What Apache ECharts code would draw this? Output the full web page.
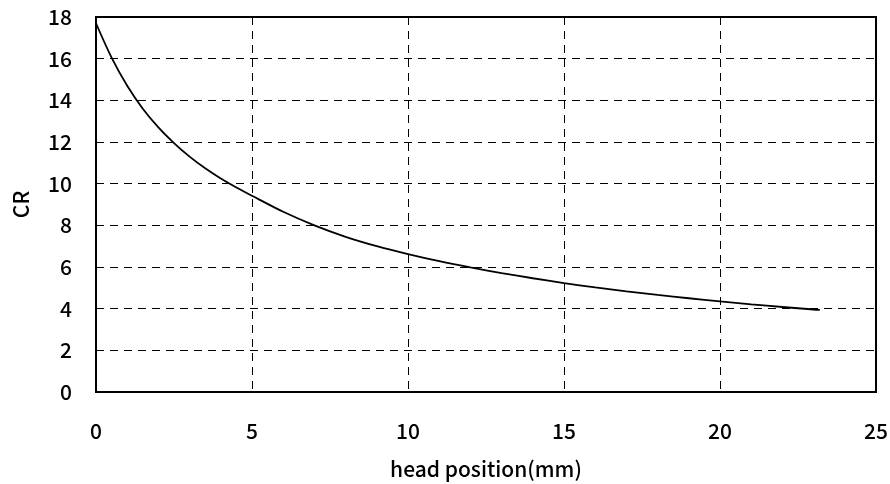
<!DOCTYPE html>
<html>
<head>
<meta charset="utf-8">
<script src="https://cdn.jsdelivr.net/npm/echarts@6/dist/echarts.min.js"></script>
<style>
  html, body { margin: 0; padding: 0; background: #fff; }
  #chart { width: 890px; height: 484px; }
</style>
</head>
<body>
<div id="chart"></div>
<script>
// head position (mm) and CR
var positions = [0, 0.5, 1, 1.5, 2, 2.5, 3, 3.5, 4, 4.5, 5, 6, 7, 8, 9, 10, 11, 12, 13, 14, 15, 16, 17, 18, 19, 20, 21, 22, 23, 23.2];
var crValues = [17.7, 16.05, 14.7, 13.6, 12.7, 11.95, 11.3, 10.74, 10.25, 9.82, 9.42, 8.65, 8.0, 7.45, 7.0, 6.62, 6.28, 5.98, 5.71, 5.46, 5.23, 5.02, 4.83, 4.66, 4.5, 4.35, 4.21, 4.08, 3.96, 3.94];

var xTicks = [0, 5, 10, 15, 20, 25];
var yTicks = [0, 2, 4, 6, 8, 10, 12, 14, 16, 18];

var points = positions.map(function (x, i) { return [x, crValues[i]]; });

var font = '"Noto Sans CJK JP", "Liberation Sans", sans-serif';

var myChart = echarts.init(document.getElementById('chart'));

var option = {
  animation: false,
  backgroundColor: '#fff',
  grid: {
    left: 96,
    right: 14,
    top: 17,
    bottom: 92,
    outerBoundsMode: 'none',
    containLabel: false,
    show: true,
    borderColor: '#000',
    borderWidth: 2
  },
  xAxis: {
    type: 'value',
    min: xTicks[0],
    max: xTicks[xTicks.length - 1],
    interval: 5,
    name: 'head position(mm)',
    nameLocation: 'middle',
    nameGap: 67,
    nameTextStyle: { color: '#000', fontSize: 21, fontWeight: 500, fontFamily: font },
    axisLine: { show: true, lineStyle: { color: '#000', width: 2 } },
    axisTick: { show: false },
    axisLabel: { color: '#000', fontSize: 21, fontWeight: 500, fontFamily: font, margin: 29 },
    splitLine: {
      show: true,
      lineStyle: { color: '#000', width: 1, type: [8, 6] }
    }
  },
  yAxis: {
    type: 'value',
    min: yTicks[0],
    max: yTicks[yTicks.length - 1],
    interval: 2,
    name: 'CR',
    nameLocation: 'middle',
    nameGap: 64,
    nameTextStyle: { color: '#000', fontSize: 21, fontWeight: 500, fontFamily: font },
    axisLine: { show: true, lineStyle: { color: '#000', width: 2 } },
    axisTick: { show: false },
    axisLabel: { color: '#000', fontSize: 21, fontWeight: 500, fontFamily: font, margin: 24 },
    splitLine: {
      show: true,
      lineStyle: { color: '#000', width: 1, type: [8, 6] }
    }
  },
  series: [
    {
      name: 'CR',
      type: 'line',
      data: points,
      showSymbol: false,
      smooth: 0.3,
      lineStyle: { color: '#000', width: 1.8 },
      z: 5
    }
  ]
};

myChart.setOption(option);
</script>
</body>
</html>
